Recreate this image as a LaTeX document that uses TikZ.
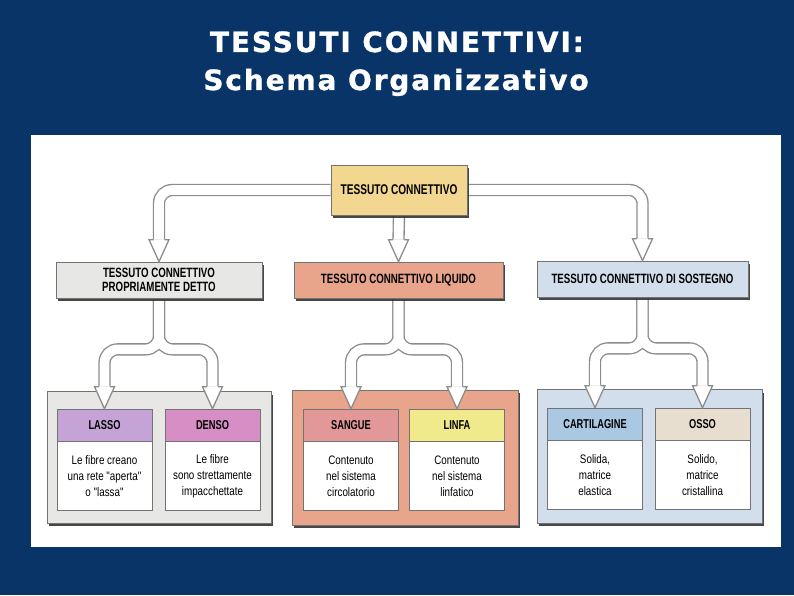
\documentclass[tikz,border=0pt]{standalone}
\usepackage{fontspec}
\setmainfont{Liberation Sans}
\newfontfamily\headfont[FakeStretch=0.72]{Liberation Sans}
\newfontfamily\bodyfont[FakeStretch=0.8]{Liberation Sans}
\newfontfamily\titlefont[LetterSpace=7,FakeBold=1.2]{DejaVu Sans}
\usetikzlibrary{positioning,calc,backgrounds,shadows}
\definecolor{navybg}{RGB}{8,52,104}
\definecolor{pipegray}{RGB}{140,140,140}
\definecolor{topyellow}{RGB}{243,215,145}
\definecolor{propgray}{RGB}{231,231,229}
\definecolor{liqsalmon}{RGB}{233,164,140}
\definecolor{sostblue}{RGB}{211,222,236}
\definecolor{lassocol}{RGB}{198,163,214}
\definecolor{densocol}{RGB}{214,142,196}
\definecolor{sanguecol}{RGB}{226,152,152}
\definecolor{linfacol}{RGB}{240,234,140}
\definecolor{cartcol}{RGB}{170,200,226}
\definecolor{ossocol}{RGB}{232,222,208}
\tikzset{
  tbox/.style={rectangle, draw=black!55, line width=0.6pt, align=center,
               drop shadow={shadow xshift=2pt, shadow yshift=-2.5pt, fill=black!80, opacity=0.9}},
  topbox/.style={tbox, fill=topyellow, minimum width=4.08cm, minimum height=1.5cm,
                 font=\headfont\bfseries\fontsize{12}{14}\selectfont},
  midbox/.style={tbox, minimum height=1.08cm,
                 font=\headfont\bfseries\fontsize{11.5}{12}\selectfont},
  panel/.style={tbox},
  headbox/.style={rectangle, draw=black!55, line width=0.5pt, minimum width=2.85cm,
                  minimum height=0.96cm, font=\headfont\bfseries\fontsize{11}{13}\selectfont},
  txtbox/.style={rectangle, draw=black!55, line width=0.5pt, fill=white, minimum width=2.85cm,
                 minimum height=2.07cm, align=center,
                 font=\bodyfont\fontsize{10.5}{13.5}\selectfont},
  pipeout/.style={draw=pipegray, line width=10.5pt, rounded corners=0.4cm},
  pipein/.style={draw=white, line width=8.2pt, rounded corners=0.4cm},
  tipstyle/.style={fill=white, draw=pipegray, line width=1.1pt, line join=miter},
  titletext/.style={text=white, anchor=base, font=\titlefont\bfseries\fontsize{23.8}{28}\selectfont},
}
% hollow arrow head, tip on the given point
\newcommand{\hollowtip}[1]{%
  \filldraw[tipstyle] ($(#1)+(-5.5,-22)$) -- ++(-4.5,0) -- (#1) -- ($(#1)+(10,-22)$) -- ++(-4.5,0);}

\begin{document}
\begin{tikzpicture}[x=0.03cm, y=-0.03cm]
\useasboundingbox (0,0) rectangle (794,595);
\begin{scope}[on background layer]
  \fill[navybg] (0,0) rectangle (794,595);
  \fill[white] (31,135) rectangle (781,547);
\end{scope}

\node[titletext] (title1) at (397,52) {TESSUTI CONNETTIVI:};
\node[titletext] (title2) at (396,90) {Schema Organizzativo};

% levels 1 and 2
\node[topbox] (conn) at (399,190) {TESSUTO CONNETTIVO};
\node[midbox, fill=propgray, minimum width=6.18cm] (prop) at (159,280) {TESSUTO CONNETTIVO\\PROPRIAMENTE DETTO};
\node[midbox, fill=liqsalmon, minimum width=6.27cm] (liq) at (398.5,280) {TESSUTO CONNETTIVO LIQUIDO};
\node[midbox, fill=sostblue, minimum width=6.33cm] (sost) at (642.5,279) {TESSUTO CONNETTIVO DI SOSTEGNO};

% level 3 panels
\node[panel, fill=propgray, minimum width=6.72cm, minimum height=3.95cm] (proppan) at (159,457.5) {};
\node[panel, fill=liqsalmon, minimum width=6.78cm, minimum height=4.05cm] (liqpan) at (405,458) {};
\node[panel, fill=sostblue, minimum width=6.75cm, minimum height=4.0cm] (sostpan) at (649.5,456.5) {};

\node[headbox, fill=lassocol] (lasso) at (104.5,425) {LASSO};
\node[txtbox, below=0pt of lasso] (lassotxt) {Le fibre creano\\una rete "aperta"\\o "lassa"};
\node[headbox, fill=densocol] (denso) at (212.5,425) {DENSO};
\node[txtbox, below=0pt of denso] (densotxt) {Le fibre\\sono strettamente\\impacchettate};
\node[headbox, fill=sanguecol] (sangue) at (351,425) {SANGUE};
\node[txtbox, below=0pt of sangue] (sanguetxt) {Contenuto\\nel sistema\\circolatorio};
\node[headbox, fill=linfacol] (linfa) at (457,425) {LINFA};
\node[txtbox, below=0pt of linfa] (linfatxt) {Contenuto\\nel sistema\\linfatico};
\node[headbox, fill=cartcol] (cart) at (595,424) {CARTILAGINE};
\node[txtbox, below=0pt of cart] (carttxt) {Solida,\\matrice\\elastica};
\node[headbox, fill=ossocol] (osso) at (702.5,424) {OSSO};
\node[txtbox, below=0pt of osso] (ossotxt) {Solido,\\matrice\\cristallina};

\coordinate (propsplit) at ($(prop.south)+(0,51)$);
\coordinate (liqsplit) at ($(liq.south)+(0,51)$);
\coordinate (sostsplit) at ($(sost.south)+(0,51)$);

% hollow pipes: grey outline first, then white inside
\begin{scope}[on background layer]
\foreach \w in {pipeout,pipein} {
  \draw[\w] (conn.west) -| ($(prop.north)+(0,-22)$);
  \draw[\w] (conn.south) -- ($(liq.north)+(0,-22)$);
  \draw[\w] (conn.east) -| ($(sost.north)+(0,-22)$);
  \draw[\w] (prop.south) -- (propsplit) -| ($(lasso.north)+(0,-22)$);
  \draw[\w] (prop.south) -- (propsplit) -| ($(denso.north)+(0,-22)$);
  \draw[\w] (liq.south) -- (liqsplit) -| ($(sangue.north)+(0,-22)$);
  \draw[\w] (liq.south) -- (liqsplit) -| ($(linfa.north)+(0,-22)$);
  \draw[\w] (sost.south) -- (sostsplit) -| ($(cart.north)+(0,-22)$);
  \draw[\w] (sost.south) -- (sostsplit) -| ($(osso.north)+(0,-22)$);
}
\end{scope}
\foreach \n in {prop,liq,sost,lasso,denso,sangue,linfa,cart,osso}
  \hollowtip{\n.north};
\end{tikzpicture}
\end{document}
